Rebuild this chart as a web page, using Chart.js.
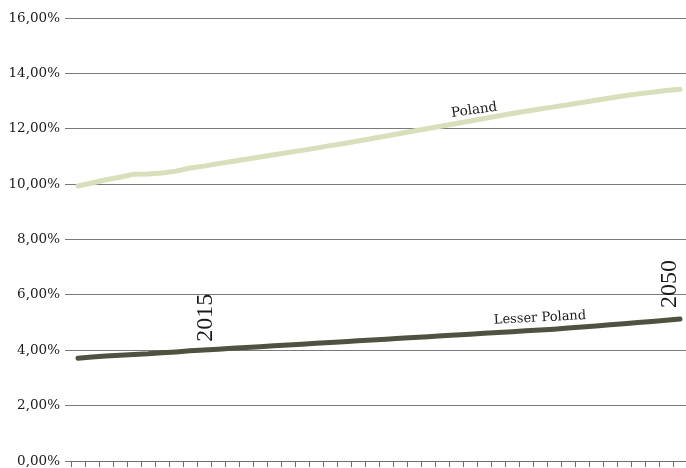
<!DOCTYPE html>
<html>
<head>
<meta charset="utf-8">
<script src="https://cdn.jsdelivr.net/npm/chart.js@4/dist/chart.umd.min.js"></script>
<style>
  html, body { margin: 0; padding: 0; background: #ffffff; overflow: hidden; }
  #wrap { position: relative; width: 688px; height: 468px; }
</style>
</head>
<body>
<div id="wrap"><canvas id="chart"></canvas></div>
<script>
// Years on the horizontal axis (labels not printed, only tick marks)
const years = [];
for (let y = 2007; y <= 2050; y++) years.push(String(y));

// Share of population, per cent
const poland = [
  9.93, 10.04, 10.16, 10.25, 10.36, 10.37, 10.40, 10.47, 10.58, 10.65,
  10.74, 10.82, 10.90, 10.98, 11.06, 11.14, 11.22, 11.30, 11.39, 11.47,
  11.56, 11.65, 11.74, 11.83, 11.92, 12.01, 12.10, 12.19, 12.28, 12.37,
  12.46, 12.55, 12.63, 12.71, 12.79, 12.87, 12.95, 13.03, 13.11, 13.19,
  13.26, 13.32, 13.38, 13.43
];
const lesserPoland = [
  3.71, 3.76, 3.79, 3.82, 3.85, 3.87, 3.91, 3.94, 3.98, 4.01,
  4.04, 4.07, 4.10, 4.13, 4.16, 4.19, 4.22, 4.25, 4.28, 4.31,
  4.34, 4.37, 4.40, 4.43, 4.46, 4.49, 4.52, 4.55, 4.58, 4.61,
  4.64, 4.67, 4.70, 4.73, 4.76, 4.80, 4.84, 4.88, 4.92, 4.96,
  5.00, 5.04, 5.08, 5.13
];

// Value axis ticks
const yTicks = [0, 2, 4, 6, 8, 10, 12, 14, 16];

// Text placed on the plot: anchored to a series point, shifted in pixels
const notes = [
  { text: 'Poland',        series: 0, index: 28.3, dx: 0,   dy: -10, rot: -8,  font: '13.5px "DejaVu Serif"' },
  { text: 'Lesser Poland', series: 1, index: 33,   dx: 0,   dy: -12, rot: -3,  font: '13px "DejaVu Serif"' },
  { text: '2015',          series: 1, index: 8,    dx: 16,  dy: -33, rot: -90, font: '24px "Liberation Serif"' },
  { text: '2050',          series: 1, index: 43,   dx: -10, dy: -35, rot: -90, font: '24px "Liberation Serif"' }
];

const notePlugin = {
  id: 'notes',
  afterDatasetsDraw(chart) {
    const ctx = chart.ctx;
    const xs = chart.scales.x, ys = chart.scales.y;
    const series = [poland, lesserPoland];
    notes.forEach(n => {
      const arr = series[n.series];
      const i0 = Math.floor(n.index), i1 = Math.min(arr.length - 1, i0 + 1);
      const t = n.index - i0;
      const v = arr[i0] + (arr[i1] - arr[i0]) * t;
      const x = xs.getPixelForValue(n.index) + n.dx;
      const y = ys.getPixelForValue(v) + n.dy;
      ctx.save();
      ctx.translate(x, y);
      ctx.rotate(n.rot * Math.PI / 180);
      ctx.font = n.font;
      ctx.fillStyle = '#1a1a1a';
      ctx.textAlign = 'center';
      ctx.textBaseline = 'middle';
      ctx.fillText(n.text, 0, 0);
      ctx.restore();
    });
  }
};

new Chart(document.getElementById('chart'), {
  type: 'line',
  data: {
    labels: years,
    datasets: [
      {
        label: 'Poland',
        data: poland,
        borderColor: '#d8dfbb',
        borderWidth: 5,
        borderCapStyle: 'round',
        borderJoinStyle: 'round',
        pointRadius: 0,
        tension: 0,
        clip: false
      },
      {
        label: 'Lesser Poland',
        data: lesserPoland,
        borderColor: '#4f5241',
        borderWidth: 5,
        borderCapStyle: 'round',
        borderJoinStyle: 'round',
        pointRadius: 0,
        tension: 0,
        clip: false
      }
    ]
  },
  options: {
    responsive: true,
    maintainAspectRatio: false,
    animation: false,
    events: [],
    layout: { padding: { top: 18, right: 1, bottom: 0, left: 0 } },
    plugins: {
      legend: { display: false },
      tooltip: { enabled: false },
      title: { display: false }
    },
    scales: {
      x: {
        offset: true,
        border: { display: true, color: '#6f6f6f', width: 1 },
        grid: {
          offset: true,
          drawOnChartArea: false,
          drawTicks: true,
          tickLength: 6,
          color: '#6f6f6f'
        },
        ticks: { display: false },
        afterFit(s) { s.height = 7; s.paddingLeft = 0; s.paddingRight = 0; }
      },
      y: {
        min: 0,
        max: 16,
        afterBuildTicks(s) { s.ticks = yTicks.map(v => ({ value: v })); },
        border: { display: false },
        grid: {
          color: '#7a7a7a',
          lineWidth: 1,
          drawTicks: true,
          tickLength: 6
        },
        ticks: {
          padding: 5,
          color: '#1a1a1a',
          font: { family: '"DejaVu Serif"', size: 13.5 },
          callback: v => v.toFixed(2).replace('.', ',') + '%'
        },
        afterFit(s) { s.width = 71; s.paddingTop = 0; s.paddingBottom = 0; }
      }
    }
  },
  plugins: [notePlugin]
});
</script>
</body>
</html>
